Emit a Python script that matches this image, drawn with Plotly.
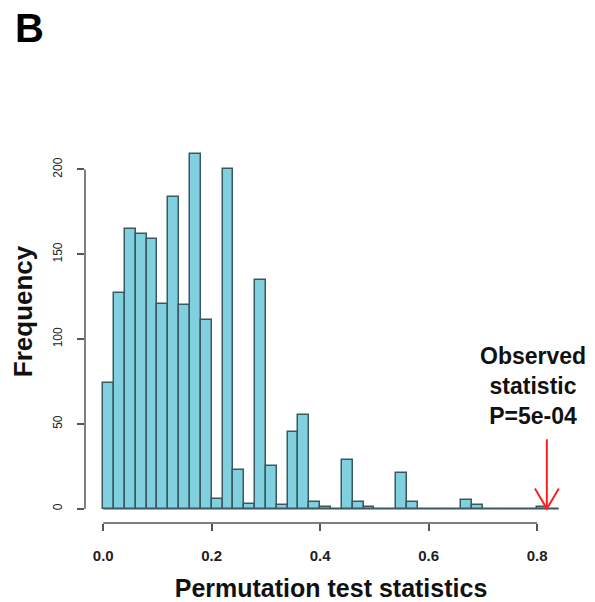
import numpy as np
import plotly.graph_objects as go

# Histogram of permutation statistics (bin width 0.02, starting at 0)
bin_start = 0.0
bin_width = 0.02
counts = [74, 127, 165, 162, 159, 121, 184, 120, 209, 111,
          6, 200, 23, 3, 135, 25, 2, 45, 55, 4,
          1, 0, 29, 4, 1, 0, 0, 21, 4, 0,
          0, 0, 0, 5, 2, 0, 0, 0, 0, 0,
          1, 0]
observed_stat = 0.818
p_label = "P=5e-04"

x_ticks = [0.0, 0.2, 0.4, 0.6, 0.8]
x_ticklabels = ["0.0", "0.2", "0.4", "0.6", "0.8"]
y_ticks = [0, 50, 100, 150, 200]
y_ticklabels = ["0", "50", "100", "150", "200"]

FILL = "#80d0e0"
EDGE = "#3b5860"
AXIS = "#555555"
FONT = "Liberation Sans"

n_bins = len(counts)
centers = bin_start + bin_width * (np.arange(n_bins) + 0.5)
bin_end = bin_start + bin_width * n_bins

fig = go.Figure()
fig.add_trace(go.Bar(
    x=centers, y=counts, width=bin_width,
    marker=dict(color=FILL, line=dict(color=EDGE, width=1.5)),
    hoverinfo="x+y", showlegend=False,
))

# R-style ranges: data extent padded by 4% on each side
x_lo, x_hi = bin_start, bin_end
x_pad = 0.04 * (x_hi - x_lo)
y_hi = max(counts)
y_pad = 0.04 * y_hi

shapes = [
    # baseline under empty bins
    dict(type="line", xref="x", yref="y", x0=x_lo, x1=x_hi, y0=0, y1=0,
         line=dict(color=EDGE, width=1.5)),
    # axis lines spanning only the tick range
    dict(type="line", xref="x", yref="paper", x0=x_ticks[0], x1=x_ticks[-1], y0=0, y1=0,
         line=dict(color=AXIS, width=1.5)),
    dict(type="line", xref="paper", yref="y", x0=0, x1=0, y0=y_ticks[0], y1=y_ticks[-1],
         line=dict(color=AXIS, width=1.5)),
]

# red arrow pointing at the observed statistic
arrow_top = 41
head_dx = 0.022
head_dy = 12
shapes.append(dict(type="line", xref="x", yref="y", x0=observed_stat, x1=observed_stat,
                   y0=arrow_top, y1=0, line=dict(color="#ff2020", width=2)))
shapes.append(dict(type="path", xref="x", yref="y",
                   path=(f"M {observed_stat - head_dx},{head_dy} L {observed_stat},0 "
                         f"L {observed_stat + head_dx},{head_dy}"),
                   line=dict(color="#ff2020", width=2)))

annotations = [
    dict(text="Observed<br>statistic<br>" + p_label, xref="x", yref="y",
         x=observed_stat - 0.026, y=arrow_top + 5, xanchor="center", yanchor="bottom",
         showarrow=False, align="center",
         font=dict(family=FONT, size=23, color="#111111", weight="bold")),
    dict(text="B", xref="paper", yref="paper", x=-0.112, y=1.292,
         xanchor="center", yanchor="middle", showarrow=False,
         font=dict(family=FONT, size=40, color="#000000", weight="bold")),
    # y-axis title, centred on the labelled tick span
    dict(text="Frequency", xref="paper", yref="paper", x=-0.126, y=0.553,
         xanchor="center", yanchor="middle", textangle=-90, showarrow=False,
         font=dict(family=FONT, size=26, color="#111111", weight="bold")),
]

fig.update_layout(
    width=595, height=602,
    margin=dict(l=85, r=18, t=140, b=79),
    paper_bgcolor="white", plot_bgcolor="white",
    bargap=0,
    shapes=shapes, annotations=annotations,
    xaxis=dict(
        range=[x_lo - x_pad, x_hi + x_pad],
        tickvals=x_ticks, ticktext=x_ticklabels,
        ticks="outside", ticklen=7, tickwidth=1.5, tickcolor=AXIS,
        showline=False, showgrid=False, zeroline=False, automargin=False,
        tickfont=dict(family=FONT, size=15, color="#222222", weight="bold"),
        ticklabelstandoff=12,
        title=dict(text="Permutation test statistics", standoff=20,
                   font=dict(family=FONT, size=25, color="#111111", weight="bold")),
    ),
    yaxis=dict(
        range=[-y_pad, y_hi + y_pad],
        tickvals=y_ticks, ticktext=y_ticklabels, tickangle=-90,
        ticks="outside", ticklen=7, tickwidth=1.5, tickcolor=AXIS,
        showline=False, showgrid=False, zeroline=False, automargin=False,
        tickfont=dict(family=FONT, size=12, color="#222222"),
        ticklabelstandoff=10,
    ),
)

fig.write_html("out.html")
